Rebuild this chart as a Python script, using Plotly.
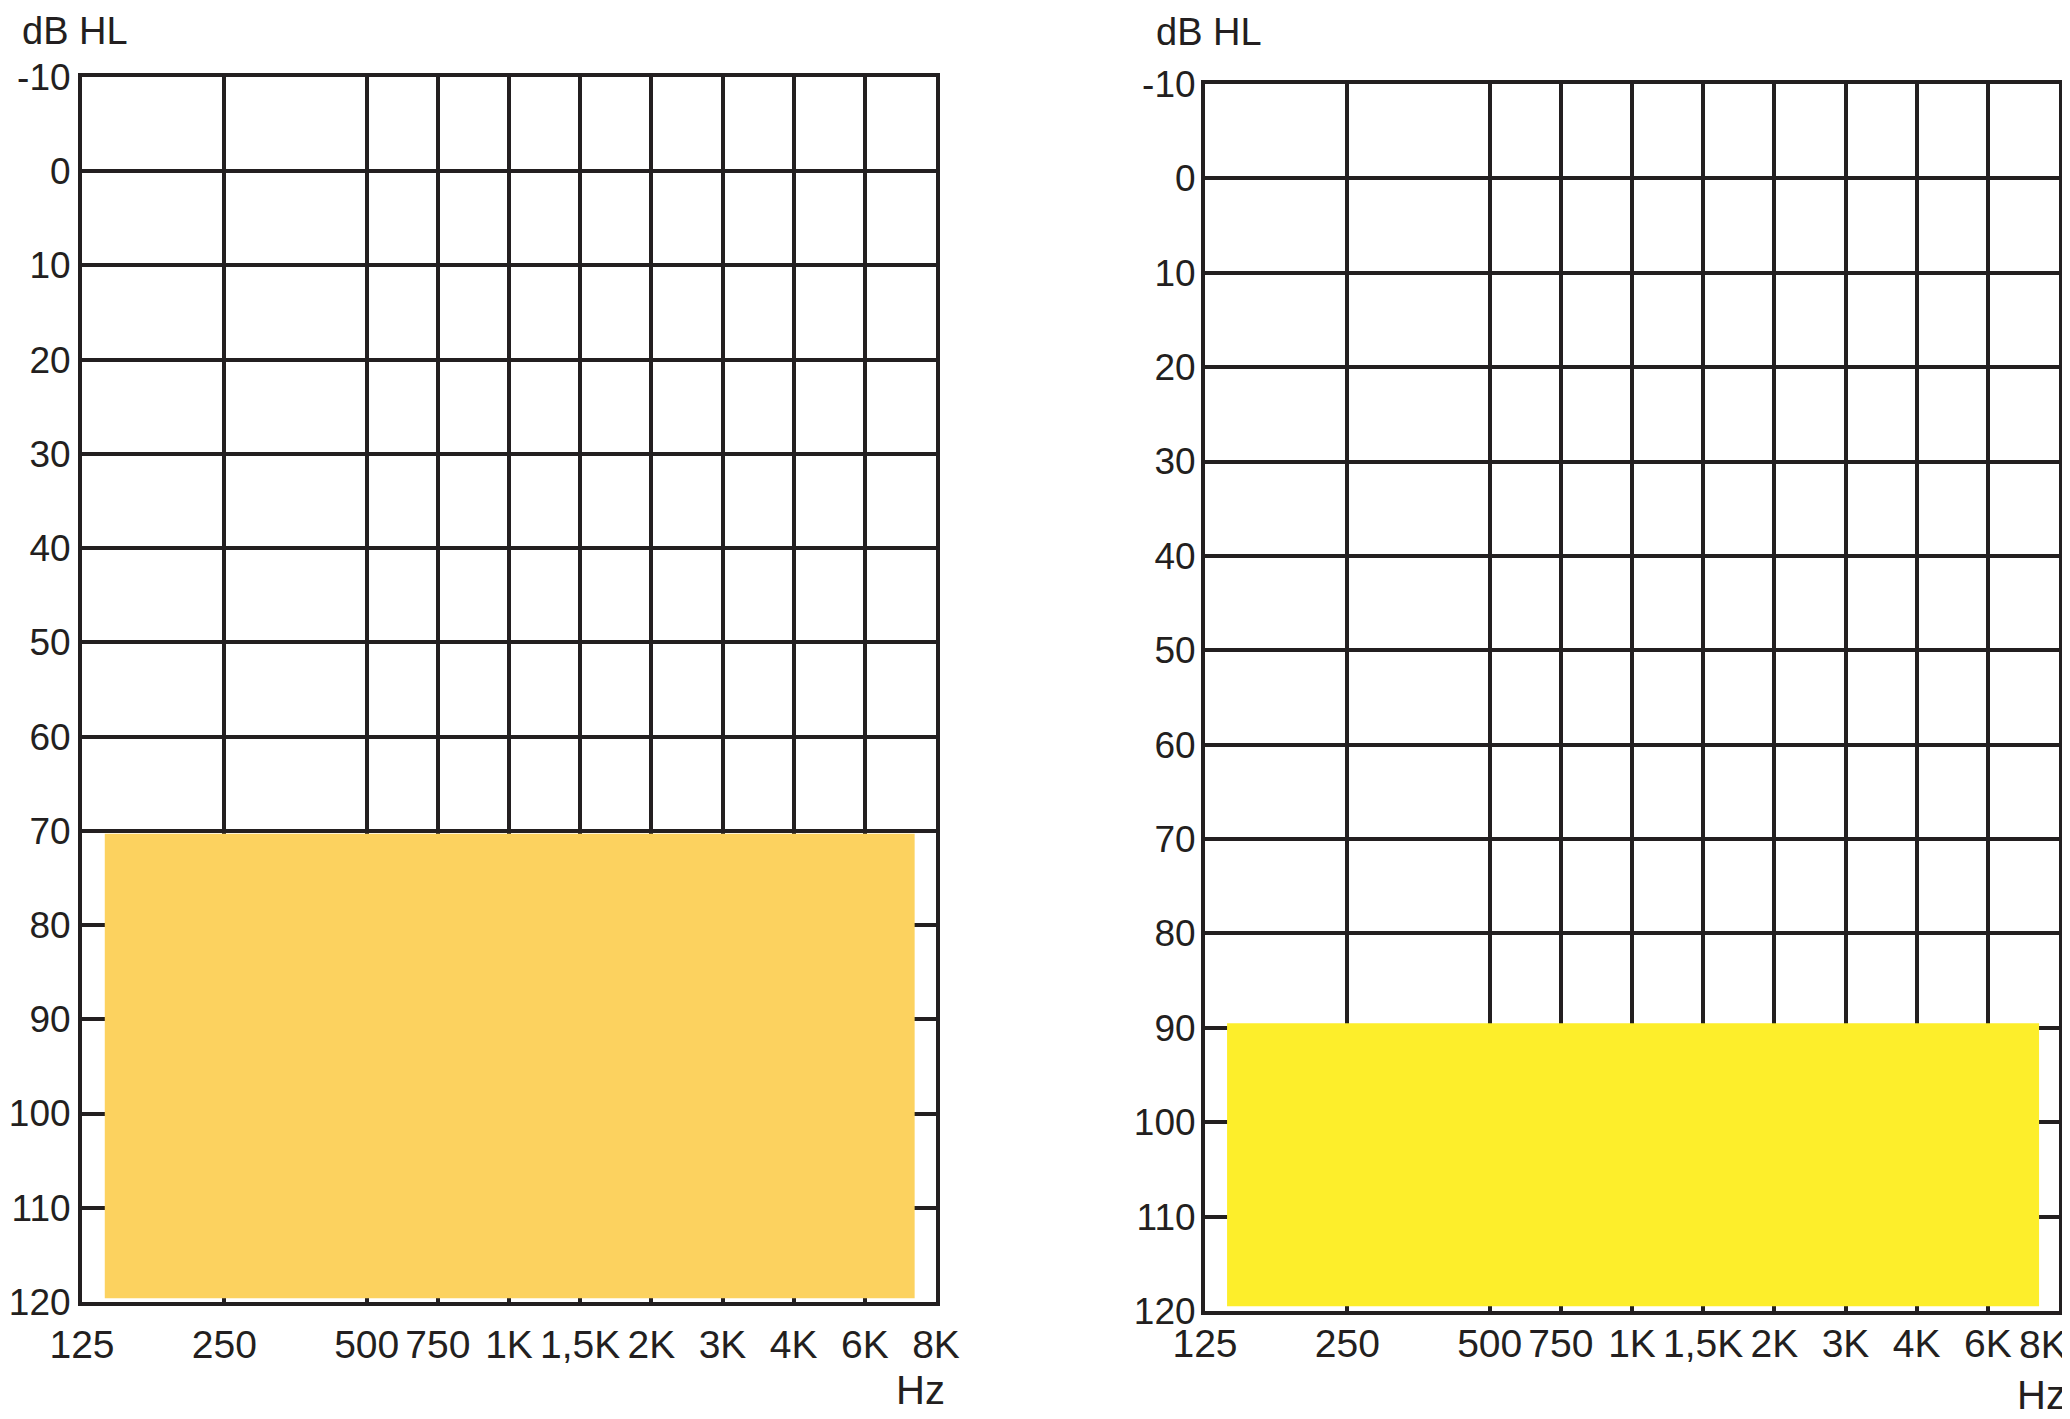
import math
import plotly.graph_objects as go

# ---- data ----
freqs_hz = [125, 250, 500, 750, 1000, 1500, 2000, 3000, 4000, 6000, 8000]
freq_labels = ["125", "250", "500", "750", "1K", "1,5K", "2K", "3K", "4K", "6K", "8K"]
db_ticks = [-10, 0, 10, 20, 30, 40, 50, 60, 70, 80, 90, 100, 110, 120]

# shaded hearing-level band for each panel: (top dB, bottom dB)
left_band_db = [70.3, 119.6]
right_band_db = [89.5, 119.5]
# horizontal extent of the bands, in octaves above 125 Hz
left_band_oct = [0.16, 5.85]
right_band_oct = [0.155, 5.86]

LEFT_COLOR = "#FCD25F"
RIGHT_COLOR = "#FDEE2B"
INK = "#231F20"
FONT = "Liberation Sans, Arial, Helvetica, sans-serif"

# audiogram spacing: octaves, with inter-octave frequencies at half positions
tick_pos = [round(2 * math.log2(f / 125)) / 2 for f in freqs_hz]

fig = go.Figure()

def band(xr, yr, color, xa, ya):
    return go.Scatter(
        x=[xr[0], xr[1], xr[1], xr[0], xr[0]],
        y=[yr[0], yr[0], yr[1], yr[1], yr[0]],
        fill="toself", fillcolor=color, mode="lines",
        line=dict(width=0, color=color), hoverinfo="skip",
        showlegend=False, xaxis=xa, yaxis=ya,
    )

fig.add_trace(band(left_band_oct, left_band_db, LEFT_COLOR, "x", "y"))
fig.add_trace(band(right_band_oct, right_band_db, RIGHT_COLOR, "x2", "y2"))

xcommon = dict(
    range=[tick_pos[0], tick_pos[-1]], tickmode="array", tickvals=tick_pos,
    showgrid=True, gridcolor=INK, gridwidth=4,
    showline=True, linecolor=INK, linewidth=4, mirror=True,
    zeroline=False, ticks="", automargin=False, ticklabeloverflow="allow",
    tickfont=dict(family=FONT, size=39, color=INK), fixedrange=True,
)
ycommon = dict(
    range=[120, -10], tickmode="array", tickvals=db_ticks,
    ticktext=[str(v) for v in db_ticks], showgrid=True, gridcolor=INK,
    gridwidth=4, showline=True, linecolor=INK, linewidth=4, mirror=True,
    zeroline=False, ticks="", automargin=False, ticklabeloverflow="allow",
    tickfont=dict(family=FONT, size=37, color=INK), fixedrange=True,
)

# right panel: the last label sits flush with the page edge (placed separately below)
right_labels = freq_labels[:-1] + [""]

# page has an 8px body margin; figure coordinates = page coordinates - 8
OFF = 8
W, H = 2070 - OFF, 1419 - OFF

def px_x(v):
    return (v - OFF) / W

def px_y(v):
    return 1 - (v - OFF) / H

fig.update_layout(
    width=W, height=H, margin=dict(l=0, r=0, t=0, b=0, autoexpand=False),
    paper_bgcolor="white", plot_bgcolor="white", showlegend=False,
    xaxis=dict(xcommon, domain=[px_x(82), px_x(936)], anchor="y",
               ticktext=freq_labels, ticklabelstandoff=5),
    yaxis=dict(ycommon, domain=[px_y(1302), px_y(77)], anchor="x",
               ticklabelstandoff=0),
    xaxis2=dict(xcommon, domain=[px_x(1205), px_x(2059)], anchor="y2",
                ticktext=right_labels, ticklabelstandoff=-5),
    yaxis2=dict(ycommon, domain=[px_y(1311), px_y(84)], anchor="x2",
                ticklabelstandoff=-2),
)

ann_font = dict(family=FONT, size=40, color=INK)
head_font = dict(family=FONT, size=38, color=INK)
tick_font = dict(family=FONT, size=39, color=INK)
fig.add_annotation(text="dB HL", xref="paper", yref="paper", x=px_x(20), y=1,
                   xanchor="left", yanchor="top", showarrow=False, font=head_font)
fig.add_annotation(text="dB HL", xref="paper", yref="paper", x=px_x(1154), y=px_y(9),
                   xanchor="left", yanchor="top", showarrow=False, font=head_font)
fig.add_annotation(text="Hz", xref="paper", yref="paper", x=px_x(947), y=px_y(1390),
                   xanchor="right", yanchor="middle", showarrow=False, font=ann_font)
fig.add_annotation(text="Hz", xref="paper", yref="paper", x=px_x(2068), y=px_y(1395),
                   xanchor="right", yanchor="middle", showarrow=False, font=ann_font)
fig.add_annotation(text=freq_labels[-1], xref="paper", yref="paper", x=px_x(2069),
                   y=px_y(1344), xanchor="right", yanchor="middle", showarrow=False,
                   font=tick_font)

fig.write_html("out.html")
